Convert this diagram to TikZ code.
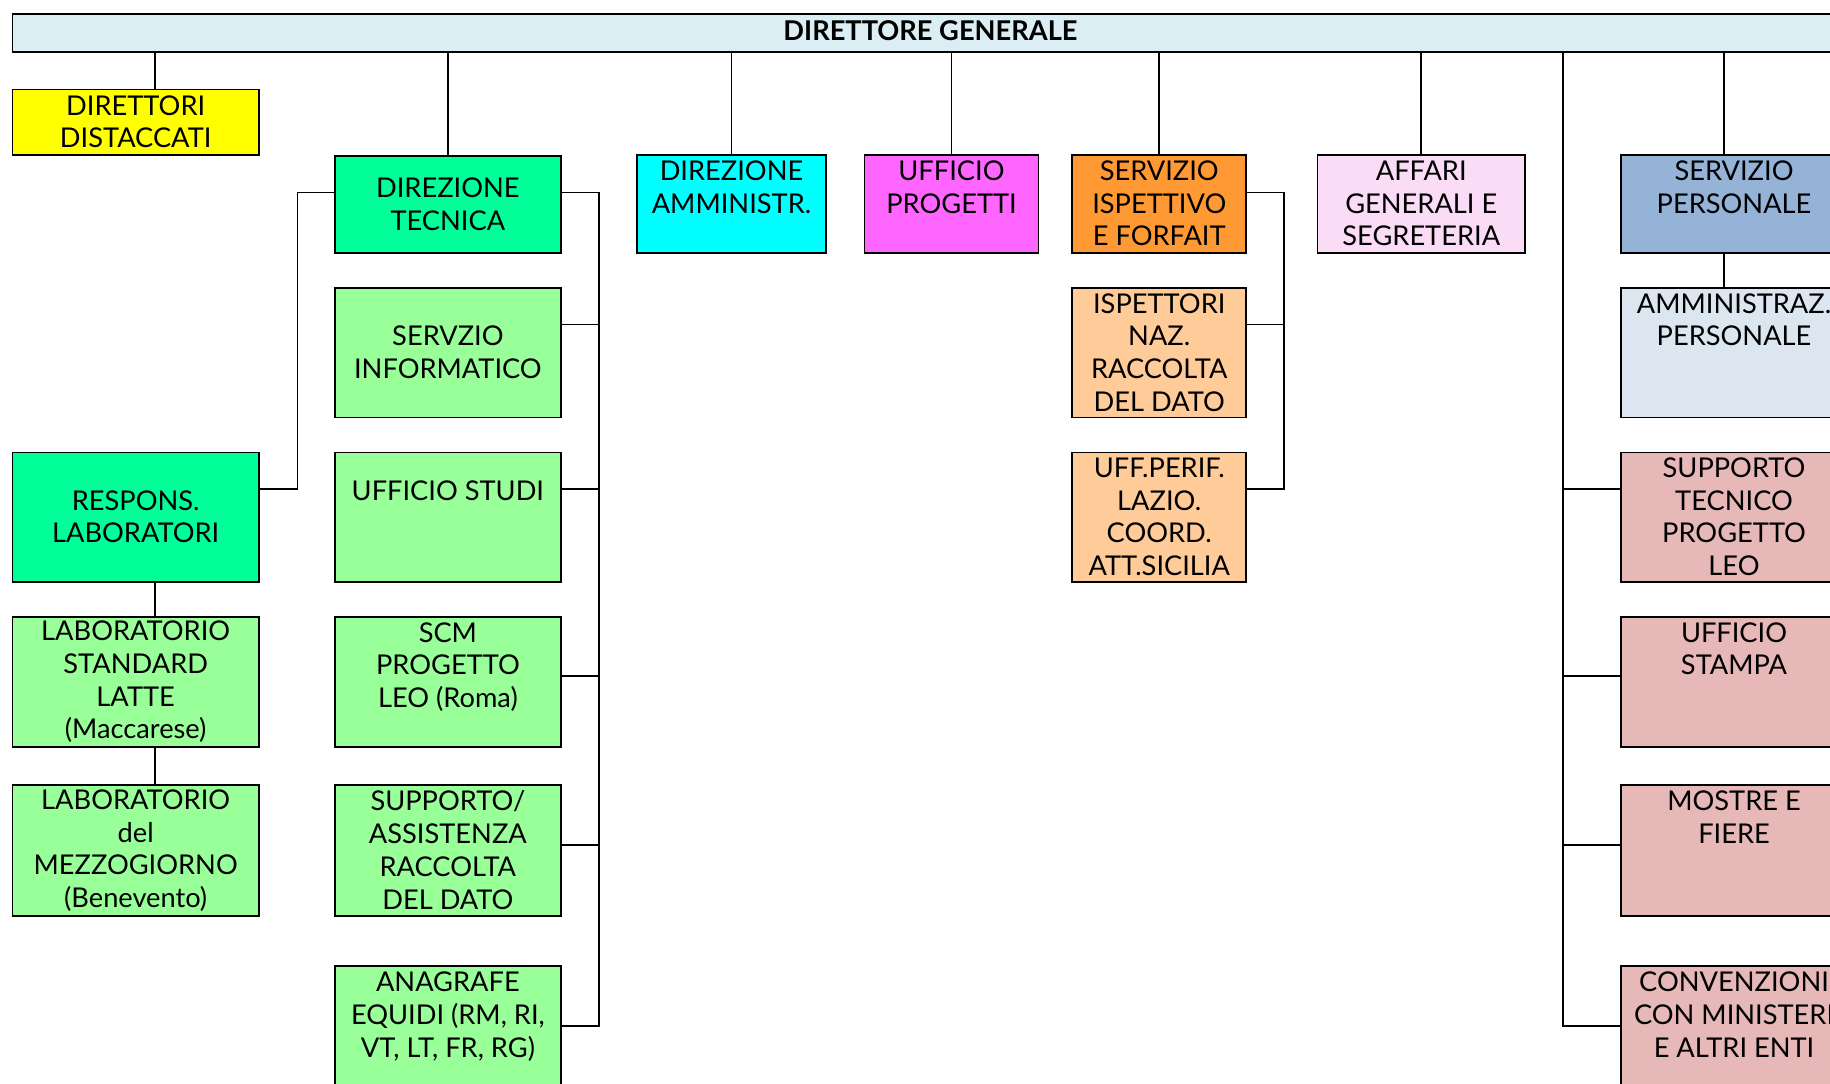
\documentclass[tikz,border=0pt]{standalone}
\usepackage{fontspec}
\setmainfont{Lato}
\definecolor{dgfill}{RGB}{218,238,243}
\definecolor{ylw}{RGB}{255,255,0}
\definecolor{grn}{RGB}{0,255,153}
\definecolor{lgrn}{RGB}{153,255,153}
\definecolor{cyn}{RGB}{0,255,255}
\definecolor{mag}{RGB}{255,102,255}
\definecolor{org}{RGB}{255,153,51}
\definecolor{pch}{RGB}{255,204,153}
\definecolor{pnk}{RGB}{250,220,246}
\definecolor{blu}{RGB}{149,179,215}
\definecolor{lblu}{RGB}{220,230,241}
\definecolor{ros}{RGB}{230,184,183}
\newcommand{\tstrut}{\rule[-0.6pt]{0pt}{16.8pt}}
\begin{document}
\begin{tikzpicture}[x=0.6pt,y=-0.6pt,font=\fontsize{14}{16.8}\selectfont,
  bx/.style={draw,line width=0.9pt,inner sep=0pt,anchor=north west,align=center,
    execute at begin node=\tstrut,execute at end node=\tstrut},
  sz/.style 2 args={minimum width=#1*0.6pt,minimum height=#2*0.6pt},
  ln/.style={line width=0.8pt}]
  \useasboundingbox (0,0) rectangle (1568,928);
  \clip (0,0) rectangle (1568,928);
  % vertice
  \node[draw,line width=0.9pt,inner sep=0pt,anchor=north west,sz={1573}{33},fill=dgfill,
    font=\fontsize{14}{16.8}\selectfont\bfseries,text height=13.6pt,text depth=6.2pt] (dg) at (10,11) {DIRETTORE GENERALE};
  % prima riga
  \node[bx,sz={211}{56},fill=ylw] (dd) at (10,76) {DIRETTORI\\DISTACCATI};
  \node[bx,sz={194}{83},fill=grn] (dt) at (286,133) {DIREZIONE\\TECNICA};
  \node[bx,sz={162}{84},fill=cyn] (da) at (545,132) {DIREZIONE\\AMMINISTR.\\~};
  \node[bx,sz={149}{84},fill=mag] (up) at (740,132) {UFFICIO\\PROGETTI\\~};
  \node[bx,sz={149}{84},fill=org] (sis) at (918,132) {SERVIZIO\\ISPETTIVO\\E FORFAIT};
  \node[bx,sz={178}{84},fill=pnk] (ag) at (1128,132) {AFFARI\\GENERALI E\\SEGRETERIA};
  \node[bx,sz={194}{84},fill=blu] (sp) at (1388,132) {SERVIZIO\\PERSONALE\\~};
  % laboratori
  \node[bx,sz={211}{111},fill=grn] (rl) at (10,387) {RESPONS.\\LABORATORI};
  \node[bx,sz={211}{111},fill=lgrn] (lsl) at (10,528) {LABORATORIO\\STANDARD\\LATTE\\(Maccarese)};
  \node[bx,sz={211}{112},fill=lgrn] (lm) at (10,672) {LABORATORIO\\del\\MEZZOGIORNO\\(Benevento)};
  % direzione tecnica
  \node[bx,sz={194}{111},fill=lgrn] (si) at (286,246) {SERVZIO\\INFORMATICO};
  \node[bx,sz={194}{111},fill=lgrn] (us) at (286,387) {~\\UFFICIO STUDI\\~\\~};
  \node[bx,sz={194}{111},fill=lgrn] (scm) at (286,528) {SCM\\PROGETTO\\LEO (Roma)\\~};
  \node[bx,sz={194}{112},fill=lgrn] (sa) at (286,672) {SUPPORTO/\\ASSISTENZA\\RACCOLTA\\DEL DATO};
  \node[bx,sz={194}{112},fill=lgrn] (ae) at (286,827) {ANAGRAFE\\EQUIDI (RM, RI,\\VT, LT, FR, RG)\\~};
  % servizio ispettivo
  \node[bx,sz={149}{111},fill=pch] (ins) at (918,246) {ISPETTORI\\NAZ.\\RACCOLTA\\DEL DATO};
  \node[bx,sz={149}{111},fill=pch] (uff) at (918,387) {UFF.PERIF.\\LAZIO.\\COORD.\\ATT.SICILIA};
  % colonna destra
  \node[bx,sz={194}{111},fill=lblu] (amp) at (1388,246) {AMMINISTRAZ.\\PERSONALE\\~\\~};
  \node[bx,sz={194}{111},fill=ros] (stp) at (1388,387) {SUPPORTO\\TECNICO\\PROGETTO\\LEO};
  \node[bx,sz={194}{111},fill=ros] (ust) at (1388,528) {UFFICIO\\STAMPA\\~\\~};
  \node[bx,sz={194}{112},fill=ros] (mf) at (1388,672) {MOSTRE E\\FIERE\\~\\~};
  \node[bx,sz={194}{112},fill=ros] (cv) at (1388,827) {CONVENZIONI\\CON MINISTERI\\E ALTRI ENTI\\~};
  % collegamenti
  \coordinate (dtr) at (513,165);
  \coordinate (sisr) at (1100,165);
  \coordinate (bus) at (1339,0);
  \draw[ln] (dg.south -| 133,0) -- (dd.north -| 133,0);
  \foreach \n in {dt,da,up,sis,ag}
    \draw[ln] (dg.south -| \n.north) -- (\n.north);
  \draw[ln] (dg.south -| 1477,0) -- (sp.north -| 1477,0);
  \draw[ln] (sp.south -| 1477,0) -- (amp.north -| 1477,0);
  \draw[ln] (dt.west |- 0,165) -| (255,419) -- (rl.east |- 0,419);
  \draw[ln] (rl.south -| 133,0) -- (lsl.north -| 133,0);
  \draw[ln] (lsl.south -| 133,0) -- (lm.north -| 133,0);
  \draw[ln] (dt.east |- dtr) -- (dtr) |- (ae.east |- 0,879);
  \foreach \n/\y in {si/278,us/419,scm/579,sa/724}
    \draw[ln] (\n.east |- 0,\y) -- (dtr |- 0,\y);
  \draw[ln] (sis.east |- sisr) -- (sisr) |- (uff.east |- 0,419);
  \draw[ln] (ins.east |- 0,278) -- (sisr |- 0,278);
  \draw[ln] (dg.south -| bus) |- (cv.west |- 0,879);
  \foreach \n/\y in {stp/419,ust/579,mf/724}
    \draw[ln] (bus |- 0,\y) -- (\n.west |- 0,\y);
\end{tikzpicture}
\end{document}
